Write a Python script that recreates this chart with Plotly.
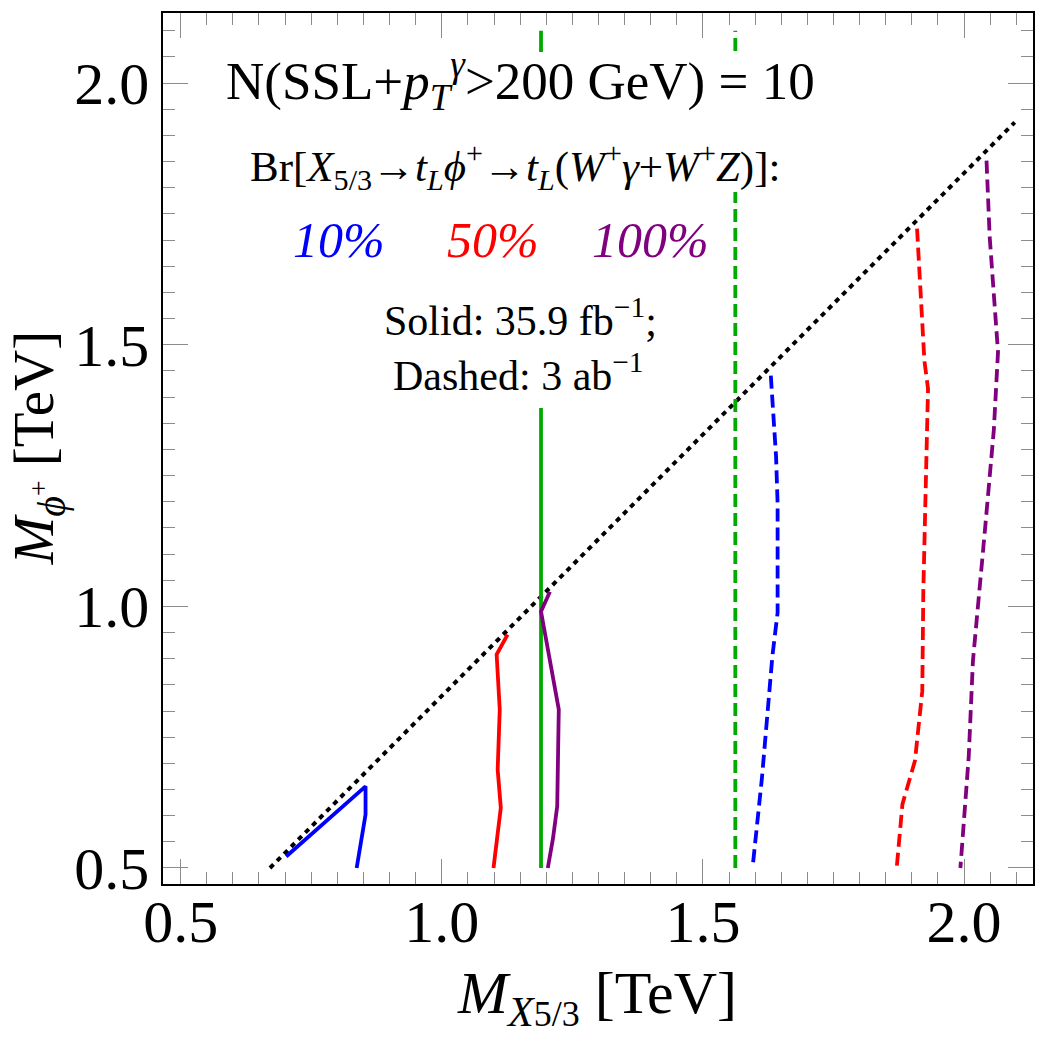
import plotly.graph_objects as go

# ---------------- data (TeV) ----------------
tick_vals = [0.5, 1.0, 1.5, 2.0]
tick_text = ["0.5", "1.0", "1.5", "2.0"]

# kinematic threshold M_phi = M_X - m_t
thr_x = [0.671, 2.097]
thr_y = [0.500, 1.925]

# experimental X5/3 mass limits (vertical lines)
lim36_x = [1.190, 1.190]
lim3ab_x = [1.562, 1.562]
lim_y = [0.500, 2.100]

# 35.9 fb^-1 contours (solid)
b10_36_x = [0.702, 0.854, 0.854, 0.837]
b10_36_y = [0.522, 0.656, 0.602, 0.500]
b50_36_x = [1.126, 1.105, 1.111, 1.107, 1.113, 1.106, 1.099]
b50_36_y = [0.946, 0.908, 0.803, 0.688, 0.615, 0.554, 0.500]
b100_36_x = [1.207, 1.190, 1.224, 1.221, 1.213, 1.203]
b100_36_y = [1.028, 0.990, 0.803, 0.618, 0.557, 0.500]

# 3 ab^-1 contours (dashed)
b10_3ab_x = [1.630, 1.640, 1.643, 1.643, 1.633, 1.613, 1.595]
b10_3ab_y = [1.441, 1.287, 1.196, 0.988, 0.905, 0.672, 0.500]
b50_3ab_x = [1.910, 1.919, 1.924, 1.931, 1.928, 1.922, 1.920, 1.906, 1.882, 1.871]
b50_3ab_y = [1.722, 1.578, 1.470, 1.416, 1.279, 1.029, 0.838, 0.705, 0.622, 0.500]
b100_3ab_x = [2.043, 2.049, 2.065, 2.057, 2.040, 2.017, 2.009, 1.993]
b100_3ab_y = [1.852, 1.707, 1.486, 1.337, 1.146, 0.896, 0.714, 0.500]

BLUE, RED, PURPLE, GREEN = "#0000FF", "#FF0000", "#800080", "#00AA00"
FONT = "Liberation Serif"

# ---------------- layout geometry (pixels) ----------------
W, H = 1042, 1038
ML, MR, MT, MB = 163, 7, 13, 154
PW, PH = W - ML - MR, H - MT - MB


def px(x):
    return (x - ML) / PW


def py(y):
    return (H - MB - y) / PH


fig = go.Figure()

fig.add_trace(go.Scatter(x=thr_x, y=thr_y, mode="lines",
                         line=dict(color="black", width=4, dash="5px,5px")))
fig.add_trace(go.Scatter(x=lim36_x, y=lim_y, mode="lines",
                         line=dict(color=GREEN, width=3.8)))
fig.add_trace(go.Scatter(x=lim3ab_x, y=lim_y, mode="lines",
                         line=dict(color=GREEN, width=3.8, dash="13px,6px")))

for xs, ys, c in [(b10_36_x, b10_36_y, BLUE), (b50_36_x, b50_36_y, RED),
                  (b100_36_x, b100_36_y, PURPLE)]:
    fig.add_trace(go.Scatter(x=xs, y=ys, mode="lines",
                             line=dict(color=c, width=3.8)))
for xs, ys, c in [(b10_3ab_x, b10_3ab_y, BLUE), (b50_3ab_x, b50_3ab_y, RED),
                  (b100_3ab_x, b100_3ab_y, PURPLE)]:
    fig.add_trace(go.Scatter(x=xs, y=ys, mode="lines",
                             line=dict(color=c, width=3.8, dash="13px,6px")))

# white backgrounds of the text block
for x0, x1, y0, y1 in [(212, 830, 52, 130), (236, 798, 130, 192), (290, 713, 192, 408)]:
    fig.add_shape(type="rect", xref="paper", yref="paper",
                  x0=px(x0), x1=px(x1), y0=py(y1), y1=py(y0),
                  fillcolor="white", line=dict(width=0), layer="above")

ann = []
ann.append(dict(x=px(521), y=py(81), text="N(SSL+<i>p</i><sub><i>T</i></sub><sup><i>γ</i></sup>>200 GeV) = 10",
                font=dict(size=53)))
ann.append(dict(x=px(516), y=py(166),
                text="Br[<i>X</i><sub>5/3</sub>→<i>t</i><sub><i>L</i></sub><i>ϕ</i><sup>+</sup>→<i>t</i><sub><i>L</i></sub>(<i>W</i><sup>+</sup><i>γ</i>+<i>W</i><sup>+</sup><i>Z</i>)]:",
                font=dict(size=43)))
ann.append(dict(x=px(339), y=py(240), text="<i>10%</i>", font=dict(size=50, color=BLUE)))
ann.append(dict(x=px(494), y=py(240), text="<i>50%</i>", font=dict(size=50, color=RED)))
ann.append(dict(x=px(652), y=py(240), text="<i>100%</i>", font=dict(size=50, color=PURPLE)))
ann.append(dict(x=px(521), y=py(317), text="Solid: 35.9 fb<sup>−1</sup>;", font=dict(size=42)))
ann.append(dict(x=px(519), y=py(372), text="Dashed: 3 ab<sup>−1</sup>", font=dict(size=42)))
# axis titles
ann.append(dict(x=px(598), y=py(998),
                text="<i>M</i><sub><i>X</i><span style='font-size:36px'>5/3</span></sub> [TeV]",
                font=dict(size=60)))
ann.append(dict(x=px(38), y=py(448), text="<i>M</i><sub><i>ϕ</i><sup>+</sup></sub> [TeV]",
                font=dict(size=57), textangle=-90))

for a in ann:
    a.update(xref="paper", yref="paper", showarrow=False, xanchor="center", yanchor="middle")
    a["font"].setdefault("color", "black")
    a["font"]["family"] = FONT

axis_common = dict(
    tickmode="array", tickvals=tick_vals, ticktext=tick_text,
    ticks="inside", ticklen=25, tickwidth=1.3, tickcolor="#8c8c8c",
    showline=True, linecolor="black", linewidth=1.6, mirror="ticks",
    showgrid=False, zeroline=False,
    tickfont=dict(family=FONT, size=60, color="black"),
    minor=dict(dtick=0.05, tick0=0.5, ticks="inside", ticklen=12, tickwidth=1.3,
               tickcolor="#8c8c8c", showgrid=False),
)

fig.update_layout(
    width=W, height=H, autosize=False,
    margin=dict(l=ML, r=MR, t=MT, b=MB),
    paper_bgcolor="white", plot_bgcolor="white",
    showlegend=False,
    xaxis=dict(range=[0.4662, 2.132], ticklabelstandoff=-16, **axis_common),
    yaxis=dict(range=[0.4694, 2.134], ticklabelstandoff=0, **axis_common),
    annotations=ann,
)

fig.write_html("out.html")
